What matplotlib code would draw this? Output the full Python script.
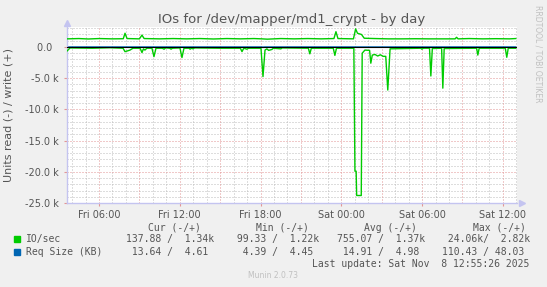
import matplotlib
matplotlib.use('Agg')
from matplotlib import pyplot as plt
import numpy as np

# hours since Fri 00:00, IO/sec (read plotted negative, write positive)
read_t = [3.62, 3.85, 5.5, 6.8, 7.78, 7.93, 8.08, 8.30, 8.52, 9.05, 9.19, 9.30, 9.41, 9.55,
          9.93, 10.08, 10.23, 10.7, 10.83, 10.95, 11.25, 11.35, 11.45, 12.01, 12.16, 12.31,
          12.7, 12.76, 12.88, 12.98, 13.1, 15.0, 16.5, 16.62, 16.75, 16.99, 17.1, 18.03,
          18.18, 18.33, 18.47, 18.6, 18.84, 18.95, 19.51, 19.6, 21.55, 21.66, 21.77, 23.40,
          23.52, 23.64, 24.93, 25.01, 25.10, 25.14, 25.48, 25.55, 25.75, 26.1, 26.19, 26.30,
          26.5, 26.7, 26.9, 27.1, 27.30, 27.45, 27.62, 29.9, 29.98, 30.1, 30.55, 30.65,
          30.76, 31.45, 31.54, 31.64, 34.05, 34.14, 34.24, 36.18, 36.29, 36.40, 36.96]
read_v = [-650, -150, -200, -120, -200, -750, -650, -500, -200, -200, -900, -300, -500, -200,
          -200, -1550, -200, -200, -350, -150, -200, -350, -200, -150, -1700, -200,
          -200, -350, -200, -300, -150, -200, -200, -750, -200, -350, -200, -200,
          -4750, -500, -300, -550, -400, -200, -300, -150, -200, -1100, -200, -200,
          -1350, -200, -200, -19900, -19900, -23800, -23800, -1000, -500, -550, -2600, -1300,
          -1200, -1450, -1250, -1500, -1500, -6900, -300, -200, -350, -200, -200, -4650,
          -250, -200, -6600, -250, -200, -1300, -200, -200, -1650, -200, -200]

write_t = [3.62, 4.5, 5.2, 6.0, 7.0, 7.8, 7.93, 8.08, 9.0, 9.19, 9.35, 10.5, 11.5, 12.5,
           13.5, 14.5, 15.5, 16.5, 17.5, 18.1, 18.5, 19.5, 20.5, 21.5, 22.5, 23.45, 23.6,
           23.75, 24.9, 25.06, 25.2, 25.5, 25.7, 26.5, 27.5, 28.5, 29.5, 30.5, 31.5, 32.45,
           32.56, 32.67, 33.5, 34.5, 35.5, 36.5, 36.96]
write_v = [1300, 1350, 1280, 1350, 1300, 1320, 2200, 1350, 1300, 1900, 1350, 1300, 1350, 1300,
           1350, 1280, 1350, 1300, 1350, 1300, 1250, 1350, 1300, 1350, 1300, 1350, 2450,
           1350, 1300, 2900, 2200, 2000, 1400, 1350, 1300, 1300, 1320, 1300, 1300, 1300,
           1550, 1300, 1350, 1300, 1330, 1300, 1350]

# request size (KB), read negative / write positive
req_t = [3.62, 18.03, 18.18, 18.33, 36.96]
req_read = [-14, -14, -110, -15, -14]
req_write = [5, 5, 20, 5, 5]

tick_hours = [6, 12, 18, 24, 30, 36]
tick_labels = ['Fri 06:00', 'Fri 12:00', 'Fri 18:00', 'Sat 00:00', 'Sat 06:00', 'Sat 12:00']
y_ticks = [0, -5000, -10000, -15000, -20000, -25000]
y_labels = ['0.0  ', '-5.0 k', '-10.0 k', '-15.0 k', '-20.0 k', '-25.0 k']

legend_names = ['IO/sec', 'Req Size (KB)']
legend_colors = ['#00CC00', '#0066B3']
col_heads = ['Cur (-/+)', 'Min (-/+)', 'Avg (-/+)', 'Max (-/+)']
row_values = [
    ['137.88 /  1.34k', ' 99.33 /  1.22k', '755.07 /  1.37k', ' 24.06k/  2.82k'],
    [' 13.64 /  4.61 ', '  4.39 /  4.45 ', ' 14.91 /  4.98 ', '110.43 / 48.03 '],
]
last_update = 'Last update: Sat Nov  8 12:55:26 2025'

W, H = 547, 287
txt = '#555555'
minor_c = '#bdbdbd'
major_c = '#e39595'
dots = (0, (1, 2))

fig = plt.figure(figsize=(W / 100, H / 100), dpi=100, facecolor='#F0F0F0')
ax = fig.add_axes([67 / W, (H - 203) / H, 450 / W, 176 / H])
ax.set_facecolor('white')

ax.set_xlim(3.62, 37.05)
ax.set_ylim(-25000, 3200)

# grid: minor gray every hour / 1k, major red every 3h / 5k
for h in np.arange(4, 38, 1):
    if h % 3:
        ax.axvline(h, color=minor_c, lw=0.72, ls=dots, zorder=0)
for v in np.arange(-24000, 4000, 1000):
    if v % 5000:
        ax.axhline(v, color=minor_c, lw=0.72, ls=dots, zorder=0)
for h in np.arange(6, 38, 3):
    ax.axvline(h, color=major_c, lw=0.72, ls=dots, zorder=0)
for v in y_ticks[1:]:
    ax.axhline(v, color=major_c, lw=0.72, ls=dots, zorder=0)

ax.plot(req_t, req_read, color=legend_colors[1], lw=0.7, zorder=2)
ax.plot(req_t, req_write, color=legend_colors[1], lw=0.7, zorder=2)
ax.plot(read_t, read_v, color=legend_colors[0], lw=1.0, zorder=3)
ax.plot(write_t, write_v, color=legend_colors[0], lw=1.0, zorder=3)
ax.axhline(0, color='black', lw=0.8, zorder=4)

for s in ['top', 'right']:
    ax.spines[s].set_visible(False)
for s in ['left', 'bottom']:
    ax.spines[s].set_color('#c4c4f0')
    ax.spines[s].set_linewidth(1.0)
ax.plot([0], [1.025], marker='^', ms=4, color='#c4c4f0', transform=ax.transAxes, clip_on=False)
ax.plot([1.01], [0], marker='>', ms=4, color='#c4c4f0', transform=ax.transAxes, clip_on=False)

ax.set_xticks(tick_hours)
ax.set_xticklabels(tick_labels)
ax.set_yticks(y_ticks)
ax.set_yticklabels(y_labels)
ax.tick_params(axis='both', labelsize=7, colors=major_c, labelcolor=txt, length=2, width=0.8)
ax.tick_params(axis='x', pad=3)
ax.tick_params(axis='y', pad=4)

ax.set_ylabel('Units read (-) / write (+)', fontsize=8, color=txt, labelpad=8)
fig.text(292 / W, 1 - 19 / H, 'IOs for /dev/mapper/md1_crypt - by day', fontsize=9.5,
         color=txt, ha='center', va='center')
fig.text(538 / W, 1 - 5 / H, 'RRDTOOL / TOBI OETIKER', fontsize=5.5, color='#c0c0c0',
         rotation=270, ha='center', va='top')

mono = 'DejaVu Sans Mono'
head_x = [147.7, 256, 364, 473]
col_x = [126, 230.7, 336.7, 442]
for x, t in zip(head_x, col_heads):
    fig.text(x / W, 1 - 228 / H, t, fontsize=7, family=mono, color=txt, va='center')
for i, (name, c) in enumerate(zip(legend_names, legend_colors)):
    y = 239 + 13 * i
    fig.patches.append(plt.Rectangle((13.5 / W, 1 - (y + 3) / H), 6 / W, 6 / H,
                                     transform=fig.transFigure, color=c))
    fig.text(26 / W, 1 - y / H, name, fontsize=7, family=mono, color=txt, va='center')
    for x, t in zip(col_x, row_values[i]):
        fig.text(x / W, 1 - y / H, t, fontsize=7, family=mono, color=txt, va='center')
fig.text(311.7 / W, 1 - 264 / H, last_update, fontsize=7, family=mono, color=txt, va='center')
fig.text(248 / W, 1 - 276 / H, 'Munin 2.0.73', fontsize=5.5, color='#c0c0c0', va='center')

fig.savefig('out.png', dpi=100, facecolor=fig.get_facecolor())
